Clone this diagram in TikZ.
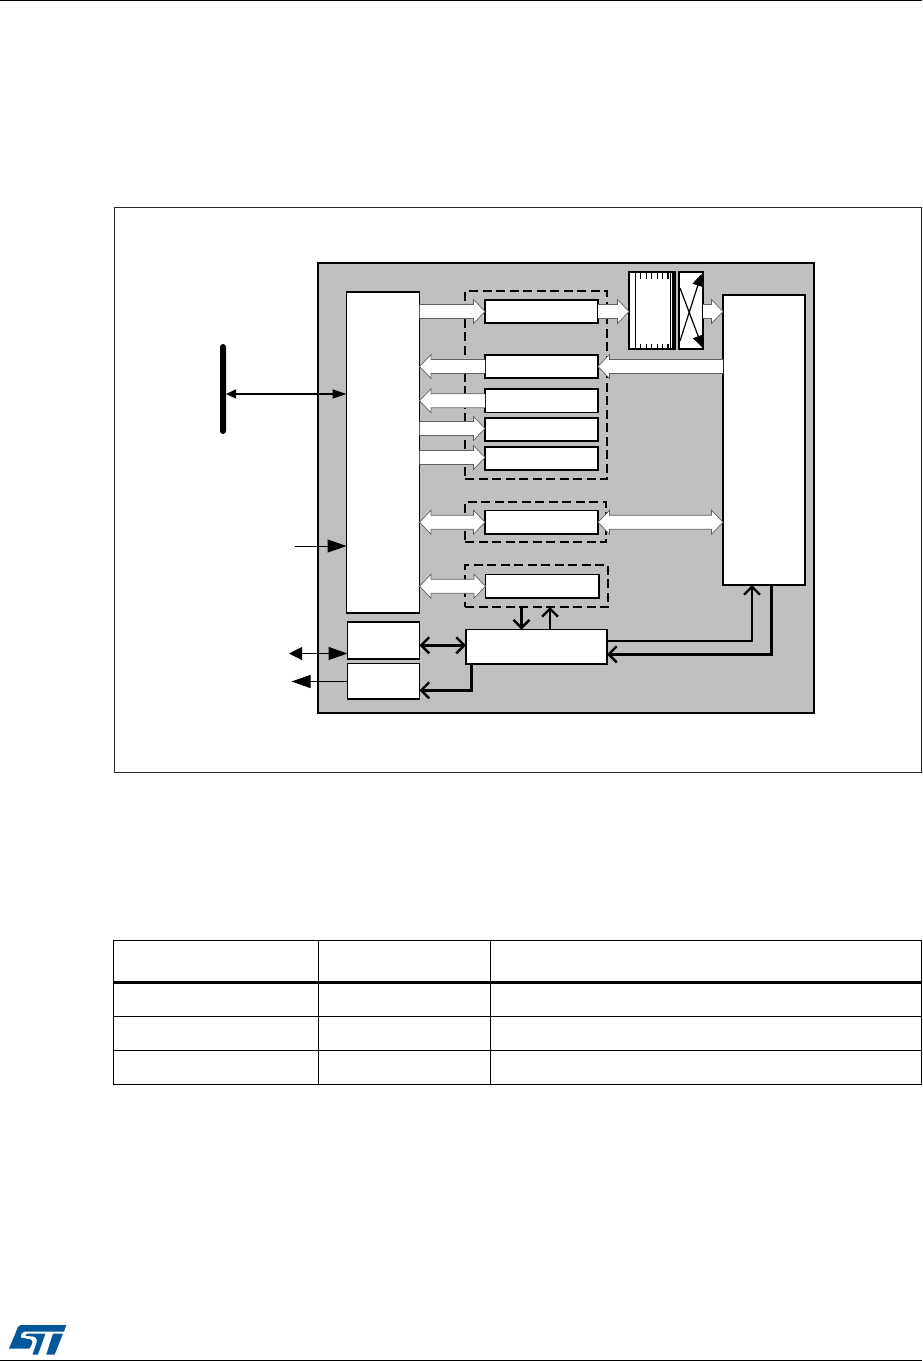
\documentclass[tikz,border=0pt]{standalone}
\usetikzlibrary{arrows.meta,calc}
\definecolor{panelgray}{HTML}{BFBFBF}
\definecolor{stblue}{HTML}{03579B}
\tikzset{
  x=1pt,y=-1pt,
  blockbox/.style={draw=black,fill=white,line width=1.2pt,inner sep=0pt,outer sep=0pt,anchor=north west},
  dashbox/.style={draw=black,dash pattern=on 9pt off 4.5pt,line width=1.4pt,inner sep=0pt,outer sep=0pt,anchor=north west},
  hollow/.style={draw=black!62,fill=white,line width=0.7pt,line join=miter},
  thinarrow/.style={line width=1pt},
  barb/.style={arrows={-Straight Barb[length=8pt,width=16pt,line width=2.4pt]}},
  barbboth/.style={arrows={Straight Barb[length=8pt,width=16pt,line width=2.4pt]-Straight Barb[length=8pt,width=16pt,line width=2.4pt]}},
  tabline/.style={line width=1pt,line cap=rect},
}
% rectangular node given by its corners
\newcommand\boxat[6][blockbox]{%
  \pgfmathsetmacro\bw{#5-#3}\pgfmathsetmacro\bh{#6-#4}%
  \node[#1,minimum width=\bw pt,minimum height=\bh pt] (#2) at (#3,#4) {};}
% hollow arrow: head at #2
\newcommand\hollowarrow[2]{%
  \path #1 coordinate (hA) #2 coordinate (hB);
  \path ($(hB)!11.5pt!(hA)$) coordinate (hH);
  \path ($(hH)!7pt!90:(hB)$) coordinate (hp) ($(hH)!7pt!-90:(hB)$) coordinate (hq)
        ($(hH)!12pt!90:(hB)$) coordinate (hP) ($(hH)!12pt!-90:(hB)$) coordinate (hQ)
        ($(hA)!7pt!-90:(hB)$) coordinate (ha) ($(hA)!7pt!90:(hB)$) coordinate (hb);
  \filldraw[hollow] (ha) -- (hq) -- (hQ) -- (hB) -- (hP) -- (hp) -- (hb);}
% hollow double arrow
\newcommand\hollowdouble[2]{%
  \path #1 coordinate (hA) #2 coordinate (hB);
  \path ($(hB)!11.5pt!(hA)$) coordinate (hH) ($(hA)!11.5pt!(hB)$) coordinate (hI);
  \path ($(hH)!7pt!90:(hB)$) coordinate (hp) ($(hH)!7pt!-90:(hB)$) coordinate (hq)
        ($(hH)!12pt!90:(hB)$) coordinate (hP) ($(hH)!12pt!-90:(hB)$) coordinate (hQ)
        ($(hI)!7pt!-90:(hB)$) coordinate (ha) ($(hI)!7pt!90:(hB)$) coordinate (hb)
        ($(hI)!12pt!-90:(hB)$) coordinate (hc) ($(hI)!12pt!90:(hB)$) coordinate (hd);
  \filldraw[hollow] (hA) -- (hd) -- (hb) -- (hp) -- (hP) -- (hB) -- (hQ) -- (hq) -- (ha) -- (hc) -- cycle;}
\begin{document}
\begin{tikzpicture}
\useasboundingbox (0,0) rectangle (922,1361);
% page rules
\draw[line width=1pt] (0,0.5) -- (922,0.5);
\draw[line width=1pt] (0,1360) -- (922,1360);
% outer frame and panel
\boxat[draw=black!85,line width=0.9pt,inner sep=0pt,outer sep=0pt,anchor=north west]{frame}{114}{207}{921}{772}
\boxat[draw=black,fill=panelgray,line width=1.8pt,inner sep=0pt,outer sep=0pt,anchor=north west]{panel}{318}{263}{814}{713}
% dashed groups
\boxat[dashbox]{dashA}{465}{291}{607}{479}
\boxat[dashbox]{dashB}{465}{502}{606}{542}
\boxat[dashbox]{dashC}{465}{565}{608}{607}
% blocks
\boxat{left}{346.5}{292}{419.5}{613}
\boxat{right}{723}{295}{805}{585}
\boxat{bA}{485}{300}{598}{323}
\boxat{bB}{485}{355}{598}{378}
\boxat{bC}{485}{389}{598}{412.5}
\boxat{bD}{485}{418}{598}{441}
\boxat{bE}{485}{447}{598}{470}
\boxat{bF}{485}{510.5}{598}{534}
\boxat{bG}{485.5}{574.5}{599}{598}
\boxat{control}{466}{629.5}{607}{664}
\boxat{smallA}{347.5}{622}{419.5}{659}
\boxat{smallB}{347.5}{663.5}{419.5}{699}
% FIFO
\boxat{fifo}{629}{272}{675}{349}
\foreach \xx in {635,670}{\draw[line width=1pt] (\xx,272) -- (\xx,349);}
\draw[line width=1.6pt] (672.7,272) -- (672.7,349);
\foreach \xx in {640.7,646.2,651.7,657.2,662.7,668}{
  \draw[line width=1.2pt] (\xx,272) -- (\xx,279);
  \draw[line width=1.2pt] (\xx,344) -- (\xx,349);}
% crossbar
\boxat{cross}{679}{272}{703}{349}
\draw[line width=1.2pt,-{Triangle[length=12pt,width=11pt]}] (680,341) -- (701.5,274);
\draw[line width=1.2pt,-{Triangle[length=12pt,width=11pt]}] (680,288) -- (702.5,347.5);
% bus
\node[fill=black,rounded corners=3pt,minimum width=6pt,minimum height=90pt,inner sep=0pt,outer sep=0pt] (bus) at (223,389) {};
\draw[line width=1.5pt,{Triangle[length=10pt,width=9pt]}-{Triangle[length=14pt,width=9pt]}] ($(bus.east)+(0,5)$) -- ($(left.west |- bus.east)+(0,5)$);
% thin external signals
\coordinate (inA) at (295,546);
\coordinate (ioA) at (289,653.5);
\coordinate (outA) at (291.5,681.5);
\draw[thinarrow,-{Triangle[length=19pt,width=13pt]}] (inA) -- (left.west |- inA);
\draw[thinarrow,{Triangle[length=13pt,width=13pt]}-{Triangle[length=19pt,width=13pt]}] (ioA) -- (smallA.west |- ioA);
\draw[thinarrow,-{Triangle[length=19pt,width=13pt]}] (smallB.west |- outA) -- (outA);
% hollow arrows
\hollowarrow{(left.east |- bA.west)}{(bA.west)}
\hollowarrow{(bA.east)}{(fifo.west |- bA.east)}
\hollowarrow{(cross.east |- bA.east)}{(right.west |- bA.east)}
\hollowarrow{(bB.west)}{(left.east |- bB.west)}
\hollowarrow{(right.west |- bB.east)}{(bB.east)}
\hollowarrow{(bC.west)}{(left.east |- bC.west)}
\hollowarrow{($(left.east |- bD.west)+(0,-1)$)}{($(bD.west)+(0,-1)$)}
\hollowarrow{($(left.east |- bE.west)+(0,-1)$)}{($(bE.west)+(0,-1)$)}
\hollowdouble{(left.east |- bF.west)}{(bF.west)}
\hollowdouble{(bF.east)}{(right.west |- bF.east)}
\hollowdouble{(left.east |- bG.west)}{(bG.west)}
% control connections
\coordinate (ctlA) at (521.5,630);
\coordinate (ctlB) at (550,630);
\coordinate (ctlC) at (466,645.3);
\draw[line width=2.6pt,line join=miter,barbboth] (smallA.east |- ctlC) -- (ctlC);
\draw[line width=3pt,line join=miter,barb] (471.7,664) |- (smallB.east |- 0,690.3);
\draw[line width=3pt,barb] (dashC.south -| ctlA) -- (control.north -| ctlA);
\draw[line width=2.4pt,barb] (control.north -| ctlB) -- (dashC.south -| ctlB);
\coordinate (rtA) at (752,585);
\coordinate (rtB) at (771.7,585);
\draw[line width=2pt,line join=miter,barb] (control.east |- 0,640.7) -| (rtA);
\draw[line width=3pt,line join=miter,barb] (rtB) |- (control.east |- 0,654.3);
% table
\draw[tabline] (113.5,940.5) rectangle (921,1084.5);
\draw[tabline] (318.3,940.5) -- (318.3,1084.5);
\draw[tabline] (490.3,940.5) -- (490.3,1084.5);
\draw[line width=3pt] (113.5,982.3) -- (921,982.3);
\draw[tabline] (113.5,1016.3) -- (921,1016.3);
\draw[tabline] (113.5,1050.3) -- (921,1050.3);
% logo
\fill[stblue] (20.5,1325) -- (66.3,1325) -- (64,1331.5) -- (24.5,1331.5)
  .. controls (22,1332) and (20,1336) .. (21,1337.5) -- (31,1339.5)
  .. controls (33,1340) and (33.5,1342) .. (29.5,1348.5) -- (9,1348.5) -- (16,1332)
  .. controls (17,1328) and (18.5,1325.5) .. (20.5,1325) -- cycle;
\fill[stblue] (27,1333.5) -- (45.5,1333.5) -- (38,1354.5) -- (32.5,1354.5) -- (36.5,1343)
  .. controls (37.5,1338.5) and (36,1337) .. (33,1336.5) -- (25.5,1335.8) -- cycle;
\fill[stblue] (53,1333.5) -- (63,1333.5) -- (54.7,1354.5) -- (46.3,1354.5) -- cycle;
\end{tikzpicture}
\end{document}
